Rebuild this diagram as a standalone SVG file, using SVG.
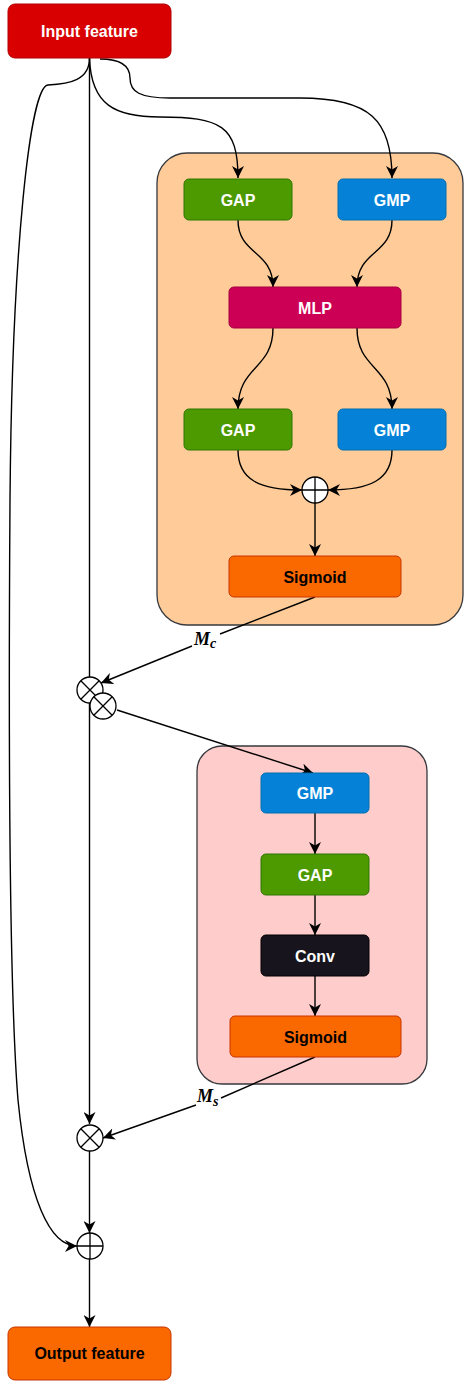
<svg xmlns="http://www.w3.org/2000/svg" width="464" height="1381" viewBox="0 0 464 1381">
<defs>
<marker id="arr" markerUnits="userSpaceOnUse" markerWidth="12" markerHeight="12" refX="10" refY="5" orient="auto" viewBox="0 0 10 10">
<path d="M0,0 L10,5 L0,10 L3,5 z" fill="#000"/>
</marker>
<style>
.lbl{font-family:"Liberation Sans",Arial,sans-serif;font-weight:bold;font-size:16px;text-anchor:middle}
.w{fill:#fff}
.k{fill:#000}
.edge{fill:none;stroke:#000;stroke-width:1.4}
.ar{marker-end:url(#arr)}
.op{fill:#fff;stroke:#000;stroke-width:1.3}
.math{font-family:"Liberation Serif","Times New Roman",serif;font-weight:bold;font-style:italic;font-size:18px}
</style>
</defs>
<rect width="464" height="1381" fill="#fff"/>

<g id="container-channel"><rect x="157" y="153" width="306" height="472" rx="30" fill="#ffcc99" stroke="#36393d" stroke-width="1.3"/></g>
<g id="container-spatial"><rect x="197" y="746" width="230" height="338" rx="25" fill="#ffcccc" stroke="#36393d" stroke-width="1.3"/></g>

<g id="connectors">
<path class="edge" d="M89.5,58 L89.5,677"/>
<path class="edge ar" d="M89.5,58 C89.5,80 70,84 48,85 C30,86 12,250 10,500 C8,800 10,1000 18,1100 C28,1200 50,1246 77,1246"/>
<path class="edge ar" d="M89.5,58 C91,105 115,117 160,117 C220,117 238,125 238,178"/>
<path class="edge ar" d="M100,59 C120,59 130,65 130,78 C130,92 140,98 170,98 L300,98 C370,98 392,120 392,178"/>
<path class="edge ar" d="M238,220 C238,255 273,250 273,287"/>
<path class="edge ar" d="M392,220 C392,255 357,250 357,287"/>
<path class="edge ar" d="M273,328 C273,370 238,365 238,409"/>
<path class="edge ar" d="M357,328 C357,370 392,365 392,409"/>
<path class="edge ar" d="M238,450 C238,480 260,490 302,490"/>
<path class="edge ar" d="M392,450 C392,480 370,490 328,490"/>
<path class="edge ar" d="M315,503 L315,556"/>
<path class="edge" d="M315,597 L220,634"/>
<path class="edge ar" d="M192,646 L101,683"/>
<path class="edge ar" d="M117,710 L313,773"/>
<path class="edge ar" d="M315,813 L315,854"/>
<path class="edge ar" d="M315,895 L315,935"/>
<path class="edge ar" d="M315,976 L315,1016"/>
<path class="edge" d="M315,1057 L221,1098"/>
<path class="edge ar" d="M196,1105 L103,1138"/>
<path class="edge ar" d="M89.5,703 L89.5,1124"/>
<path class="edge ar" d="M89.5,1151 L89.5,1233"/>
<path class="edge ar" d="M89.5,1259 L89.5,1327"/>
<text class="math" x="194" y="645">M<tspan font-size="14" dy="3">c</tspan></text>
<text class="math" x="197" y="1102">M<tspan font-size="14" dy="4">s</tspan></text>
</g>

<g id="input"><rect x="8" y="4" width="163" height="54" rx="7" fill="#d80000" stroke="#b20000"/><text class="lbl w" x="89.5" y="36.5">Input feature</text></g>

<g id="gap1"><rect x="184" y="179" width="108" height="41" rx="5" fill="#4d9900" stroke="#2d7600"/><text class="lbl w" x="238" y="205.5">GAP</text></g>
<g id="gmp1"><rect x="338" y="179" width="108" height="41" rx="5" fill="#0582d8" stroke="#006eaf"/><text class="lbl w" x="392" y="205.5">GMP</text></g>
<g id="mlp"><rect x="229" y="287" width="172" height="41" rx="5" fill="#cc0055" stroke="#a50040"/><text class="lbl w" x="315" y="313.5">MLP</text></g>
<g id="gap2"><rect x="184" y="409" width="108" height="41" rx="5" fill="#4d9900" stroke="#2d7600"/><text class="lbl w" x="238" y="435.5">GAP</text></g>
<g id="gmp2"><rect x="338" y="409" width="108" height="41" rx="5" fill="#0582d8" stroke="#006eaf"/><text class="lbl w" x="392" y="435.5">GMP</text></g>
<g id="add1"><circle class="op" cx="315" cy="490" r="13"/><path d="M302,490 H328 M315,477 V503" stroke="#000" stroke-width="1.3"/></g>
<g id="sigmoid1"><rect x="229" y="556" width="172" height="41" rx="5" fill="#fa6800" stroke="#c73500"/><text class="lbl k" x="315" y="582.5">Sigmoid</text></g>

<g id="mul1"><circle class="op" cx="90" cy="690" r="13"/><path d="M80.8,680.8 L99.2,699.2 M99.2,680.8 L80.8,699.2" stroke="#000" stroke-width="1.3"/></g>
<g id="mul2"><circle class="op" cx="103" cy="706" r="13"/><path d="M93.8,696.8 L112.2,715.2 M112.2,696.8 L93.8,715.2" stroke="#000" stroke-width="1.3"/></g>

<g id="gmp3"><rect x="261" y="773" width="108" height="40" rx="5" fill="#0582d8" stroke="#006eaf"/><text class="lbl w" x="315" y="798.5">GMP</text></g>
<g id="gap3"><rect x="261" y="854" width="108" height="41" rx="5" fill="#4d9900" stroke="#2d7600"/><text class="lbl w" x="315" y="880.5">GAP</text></g>
<g id="conv"><rect x="261" y="935" width="108" height="41" rx="5" fill="#18141d" stroke="#000"/><text class="lbl w" x="315" y="961.5">Conv</text></g>
<g id="sigmoid2"><rect x="230" y="1016" width="171" height="41" rx="5" fill="#fa6800" stroke="#c73500"/><text class="lbl k" x="315.5" y="1042.5">Sigmoid</text></g>

<g id="mul3"><circle class="op" cx="90" cy="1138" r="13"/><path d="M80.8,1128.8 L99.2,1147.2 M99.2,1128.8 L80.8,1147.2" stroke="#000" stroke-width="1.3"/></g>
<g id="add2"><circle class="op" cx="90" cy="1246" r="13"/><path d="M77,1246 H103 M90,1233 V1259" stroke="#000" stroke-width="1.3"/></g>

<g id="output"><rect x="8" y="1327" width="163" height="53" rx="7" fill="#fa6800" stroke="#c73500"/><text class="lbl k" x="89.5" y="1359">Output feature</text></g>
</svg>
